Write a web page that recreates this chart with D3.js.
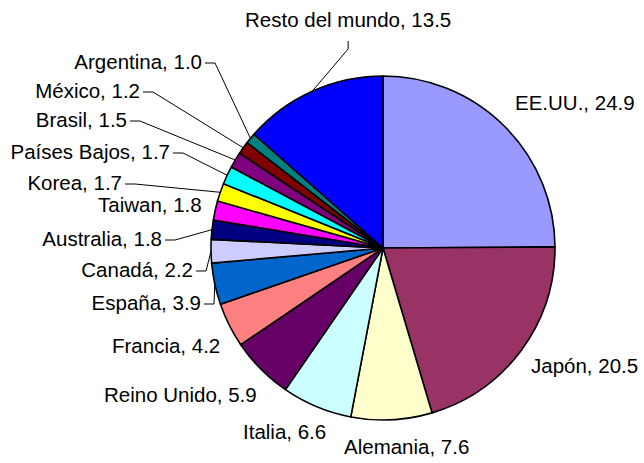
<!DOCTYPE html>
<html>
<head>
<meta charset="utf-8">
<script src="https://cdn.jsdelivr.net/npm/d3@7"></script>
<style>
  body { margin: 0; background: #fff; }
  svg text { font-family: "Liberation Sans", Arial, sans-serif; font-size: 20.5px; fill: #000; }
</style>
</head>
<body>
<svg id="chart"></svg>
<script>
// data, clockwise from 12 o'clock
let countries = ["EE.UU.","Japón","Alemania","Italia","Reino Unido","Francia","España","Canadá",
    "Australia","Taiwan","Korea","Países Bajos","Brasil","México","Argentina","Resto del mundo"];
let shares = [24.9,20.5,7.6,6.6,5.9,4.2,3.9,2.2,1.8,1.8,1.7,1.7,1.5,1.2,1.0,13.5];
let colors = ["#9999ff","#993366","#ffffcc","#ccffff","#660066","#ff8080","#0066cc","#ccccff",
    "#000080","#ff00ff","#ffff00","#00ffff","#800080","#800000","#008080","#0000ff"];

// label placement: x, baseline y, anchor, leader type
let labelPos = [
    [515,110,"start",""], [531,373,"start",""], [344,454,"start",""], [243,439,"start",""],
    [104,402,"start",""], [112,353,"start",""], [201,310,"end","side"], [193,277,"end","side"],
    [162,246,"end","side"], [98,212,"start",""], [122,190,"end","side"], [170,159,"end","side"],
    [127,127,"end","side"], [140,98,"end","side"], [202,69,"end","side"], [245,27,"start","below"]
];

let w = 644;
let h = 463;
let cx = 383;
let cy = 248;
let r = 172;

let data = countries.map((c,i)=>({name:c, value:shares[i], color:colors[i], pos:labelPos[i]}));

let svg = d3.select("#chart").attr("width",w).attr("height",h);

let pie = d3.pie().sort(null).value(d=>d.value);
let arc = d3.arc().innerRadius(0).outerRadius(r);
let arcs = pie(data);

let g = svg.append("g").attr("transform",`translate(${cx},${cy})`);

g.selectAll("path")
    .data(arcs)
    .enter().append("path")
    .attr("d",arc)
    .style("fill",d=>d.data.color)
    .style("stroke","#000")
    .style("stroke-width",1.6)
    .style("stroke-linejoin","round");

// point on the rim at the middle of a slice
function edge(d) {
    let a = (d.startAngle+d.endAngle)/2;
    return [cx+r*Math.sin(a), cy-r*Math.cos(a)];
}

let labels = svg.append("g");
arcs.forEach(d=>{
    let p = d.data.pos;
    let t = labels.append("text")
        .attr("x",p[0])
        .attr("y",p[1])
        .attr("text-anchor",p[2])
        .text(d.data.name+", "+d3.format(".1f")(d.data.value));
    let e = edge(d);
    if (p[3]=="side") {
        let x0 = p[0]+3;
        let y0 = p[1]-6;
        labels.append("polyline")
            .attr("points",`${x0},${y0} ${x0+10},${y0} ${e[0]},${e[1]}`)
            .style("fill","none")
            .style("stroke","#000")
            .style("stroke-width",1);
    } else if (p[3]=="below") {
        let len = t.node().getComputedTextLength();
        let x0 = p[0]+len/2;
        let y0 = p[1]+14;
        labels.append("polyline")
            .attr("points",`${x0},${y0} ${x0},${y0+8} ${e[0]},${e[1]}`)
            .style("fill","none")
            .style("stroke","#000")
            .style("stroke-width",1);
    }
});
</script>
</body>
</html>
